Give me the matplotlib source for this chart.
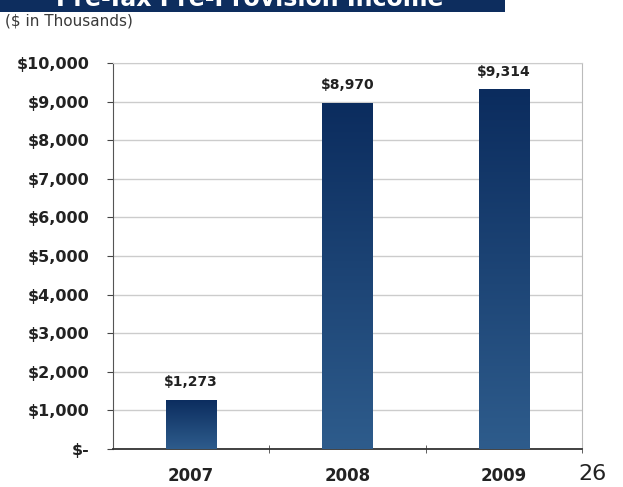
import numpy as np
import matplotlib
matplotlib.use("Agg")
import matplotlib.pyplot as plt
from matplotlib.patches import Rectangle

years = ["2007", "2008", "2009"]
income = [1273, 8970, 9314]
bar_labels = ["$1,273", "$8,970", "$9,314"]
y_ticks = [0, 1000, 2000, 3000, 4000, 5000, 6000, 7000, 8000, 9000, 10000]
y_tick_labels = ["$-", "$1,000", "$2,000", "$3,000", "$4,000", "$5,000",
                 "$6,000", "$7,000", "$8,000", "$9,000", "$10,000"]

fig = plt.figure(figsize=(6.23, 4.87), dpi=100)
fig.patch.set_facecolor("white")

# title banner, mostly cut off at the top of the slide
fig.patches.append(Rectangle((0, 1 - 12 / 487), 505 / 623, 12 / 487,
                             transform=fig.transFigure, facecolor="#0d2d5e",
                             edgecolor="none", zorder=0))
fig.text(250 / 623, 1 - 6 / 487, "Pre-Tax Pre-Provision Income", color="white",
         fontsize=17, fontweight="bold", ha="center", va="baseline")
fig.text(5 / 623, 1 - 21 / 487, "($ in Thousands)", color="#3a3a3a",
         fontsize=11, ha="left", va="center")

ax = fig.add_axes([113 / 623, 1 - 449 / 487, 469 / 623, 386 / 487])
x = np.arange(len(years))
bars = ax.bar(x, income, width=0.32, color="#1c4577", zorder=3)

grad = np.linspace(0, 1, 256).reshape(-1, 1)
cmap = matplotlib.colors.LinearSegmentedColormap.from_list("navy", ["#2e5c8c", "#0b2c5e"])
for b in bars:
    im = ax.imshow(grad, cmap=cmap, aspect="auto", origin="lower",
                   extent=[b.get_x(), b.get_x() + b.get_width(), 0, b.get_height()],
                   zorder=4)
    im.set_clip_path(b)

for xi, v, lab in zip(x, income, bar_labels):
    ax.text(xi, v + 280, lab, ha="center", va="bottom", fontsize=10,
            fontweight="bold", color="#222222")

ax.set_xlim(-0.5, 2.5)
ax.set_ylim(0, 10000)
ax.set_yticks(y_ticks)
ax.set_yticklabels(y_tick_labels, fontsize=11.5, fontweight="bold", color="#222222")
ax.set_xticks(x)
ax.set_xticklabels(years, fontsize=12, fontweight="bold", color="#222222")
ax.set_xticks([0.5, 1.5, 2.5], minor=True)
ax.tick_params(axis="x", which="major", length=0, pad=13)
ax.tick_params(axis="x", which="minor", length=6, direction="inout", color="#444444")
ax.tick_params(axis="y", length=4, color="#444444", pad=13)

ax.grid(axis="y", color="#cccccc", linewidth=1, zorder=0)
ax.set_axisbelow(True)
ax.spines["left"].set_color("#555555")
ax.spines["bottom"].set_color("#333333")
ax.spines["bottom"].set_linewidth(1.3)
ax.spines["top"].set_color("#cccccc")
ax.spines["right"].set_color("#bbbbbb")

fig.text(593 / 623, 1 - 474 / 487, "26", fontsize=16, ha="center", va="center",
         color="#222222")

fig.savefig("out.png", dpi=100)
